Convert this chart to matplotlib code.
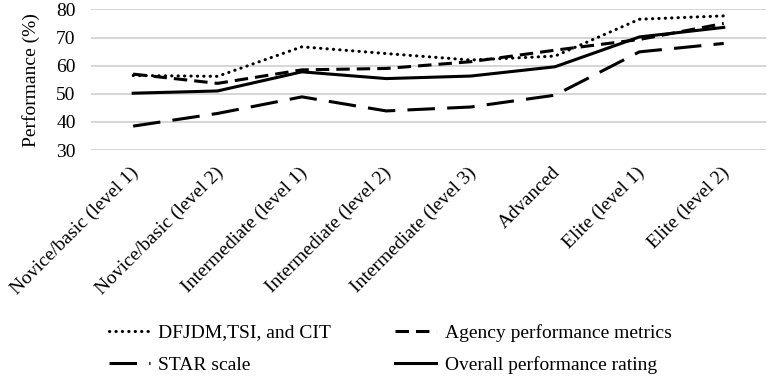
import numpy as np
import matplotlib
matplotlib.use("Agg")
import matplotlib.pyplot as plt
from matplotlib import transforms

plt.rcParams['font.family'] = ['Liberation Serif', 'DejaVu Serif']
plt.rcParams['font.size'] = 14

categories = ["Novice/basic (level 1)", "Novice/basic (level 2)",
              "Intermediate (level 1)", "Intermediate (level 2)",
              "Intermediate (level 3)", "Advanced",
              "Elite (level 1)", "Elite (level 2)"]
dfjdm = [56.5, 56.2, 66.7, 64.3, 62.0, 63.4, 76.5, 77.7]
agency = [57.0, 53.7, 58.5, 59.0, 61.4, 65.5, 69.3, 75.0]
star = [38.5, 43.0, 48.9, 43.9, 45.3, 49.5, 64.9, 67.9]
overall = [50.2, 51.0, 57.8, 55.4, 56.3, 59.6, 70.2, 73.6]
yticks = [30, 40, 50, 60, 70, 80]

fig = plt.figure(figsize=(7.67, 3.76), dpi=100)
ax = fig.add_axes([0.1186, 0.601, 0.88, 0.374])

x = np.arange(len(categories))
lw = 2.2
l1, = ax.plot(x, dfjdm, color='black', lw=lw, linestyle=(0, (0.1, 2)),
              dash_capstyle='round', solid_capstyle='round')
l2, = ax.plot(x, agency, color='black', lw=lw, linestyle=(0, (4.4, 2.3)))
l3, = ax.plot(x, star, color='black', lw=lw, linestyle=(0, (9, 4)))
l4, = ax.plot(x, overall, color='black', lw=lw, linestyle='-')

ax.set_xlim(-0.5, len(categories) - 0.5)
ax.set_ylim(30, 80)
ax.set_yticks(yticks)
ax.yaxis.grid(True, color='#d0d0d0', lw=1.2)
ax.set_axisbelow(True)
for s in ax.spines.values():
    s.set_visible(False)
ax.tick_params(axis='both', length=0)
ax.tick_params(axis='y', pad=11)
ax.set_xticks(x)
ax.set_xticklabels(categories, rotation=45, ha='right', va='top')
ax.tick_params(axis='x', pad=10)
# nudge the rotated labels a bit to the right like in excel
offset = transforms.ScaledTranslation(9 / 100, 0, fig.dpi_scale_trans)
for lab in ax.get_xticklabels():
    lab.set_transform(lab.get_transform() + offset)
ax.set_ylabel("Performance (%)", labelpad=12)

fig.legend([l1, l3, l2, l4],
           ["DFJDM,TSI, and CIT", "STAR scale",
            "Agency performance metrics", "Overall performance rating"],
           ncol=2, loc='center', bbox_to_anchor=(0.509, 0.072),
           frameon=False, handlelength=2.1, handletextpad=0.45,
           columnspacing=3.3, labelspacing=0.76, fontsize=14)

fig.savefig("out.png", dpi=100)
